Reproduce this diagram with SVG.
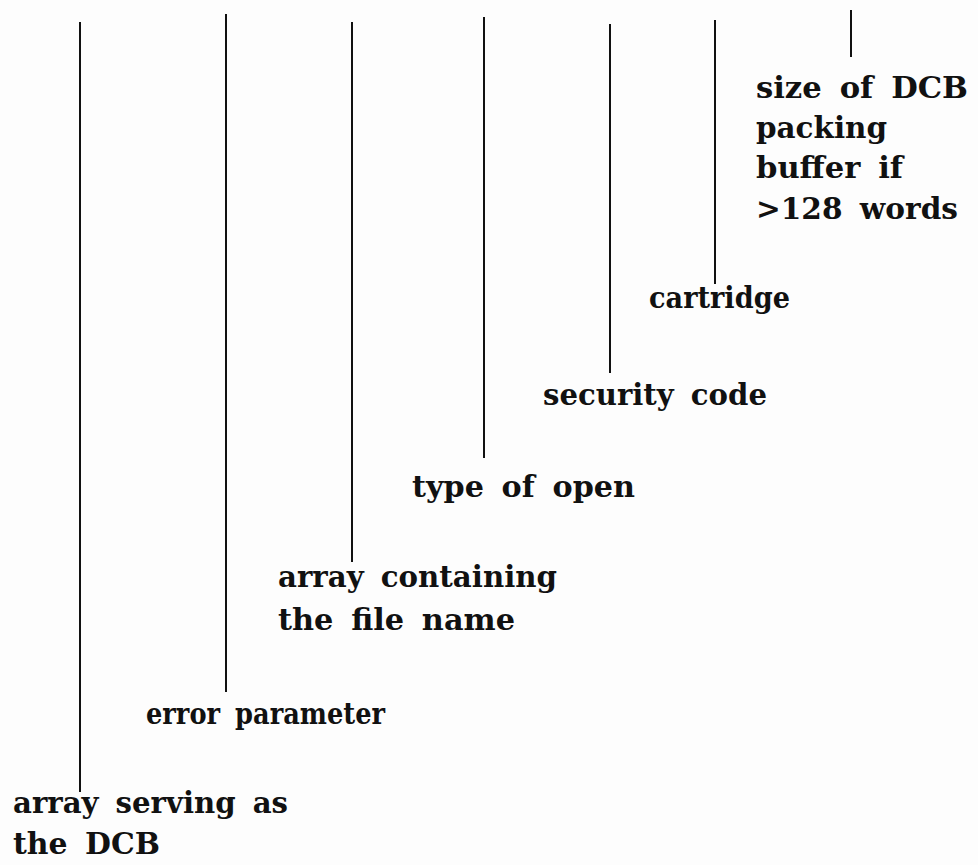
<svg xmlns="http://www.w3.org/2000/svg" width="978" height="865" viewBox="0 0 978 865">
<style>
.bg{fill:#fdfdfd}
.lead{stroke:#111;stroke-width:2;fill:none}
.lbl{font-family:"DejaVu Serif","Liberation Serif",serif;font-weight:bold;font-size:29.5px;word-spacing:7px;fill:#111}
</style>
<rect class="bg" x="0" y="0" width="978" height="865"/>
<g id="connectors">
<line class="lead" x1="80" y1="22" x2="80" y2="792"/>
<line class="lead" x1="226" y1="14" x2="226" y2="692"/>
<line class="lead" x1="352" y1="22" x2="352" y2="562"/>
<line class="lead" x1="484" y1="17" x2="484" y2="458"/>
<line class="lead" x1="610" y1="24" x2="610" y2="373"/>
<line class="lead" x1="715" y1="20" x2="715" y2="284"/>
<line class="lead" x1="851" y1="10" x2="851" y2="57"/>
</g>
<g id="node-dcb">
<text class="lbl" x="13" y="813" textLength="275" lengthAdjust="spacingAndGlyphs">array serving as</text>
<text class="lbl" x="13" y="854" textLength="147" lengthAdjust="spacingAndGlyphs">the DCB</text>
</g>
<g id="node-error">
<text class="lbl" x="146" y="724" textLength="239" lengthAdjust="spacingAndGlyphs">error parameter</text>
</g>
<g id="node-filename">
<text class="lbl" x="278" y="587" textLength="279" lengthAdjust="spacingAndGlyphs">array containing</text>
<text class="lbl" x="278" y="630" textLength="237" lengthAdjust="spacingAndGlyphs">the file name</text>
</g>
<g id="node-type">
<text class="lbl" x="412" y="497" textLength="223" lengthAdjust="spacingAndGlyphs">type of open</text>
</g>
<g id="node-security">
<text class="lbl" x="543" y="405" textLength="224" lengthAdjust="spacingAndGlyphs">security code</text>
</g>
<g id="node-cartridge">
<text class="lbl" x="649" y="308" textLength="141" lengthAdjust="spacingAndGlyphs">cartridge</text>
</g>
<g id="node-size">
<text class="lbl" x="756" y="98" textLength="212" lengthAdjust="spacingAndGlyphs">size of DCB</text>
<text class="lbl" x="756" y="138" textLength="131" lengthAdjust="spacingAndGlyphs">packing</text>
<text class="lbl" x="756" y="178" textLength="147" lengthAdjust="spacingAndGlyphs">buffer if</text>
<text class="lbl" x="756" y="219" textLength="202" lengthAdjust="spacingAndGlyphs">&gt;128 words</text>
</g>
</svg>
